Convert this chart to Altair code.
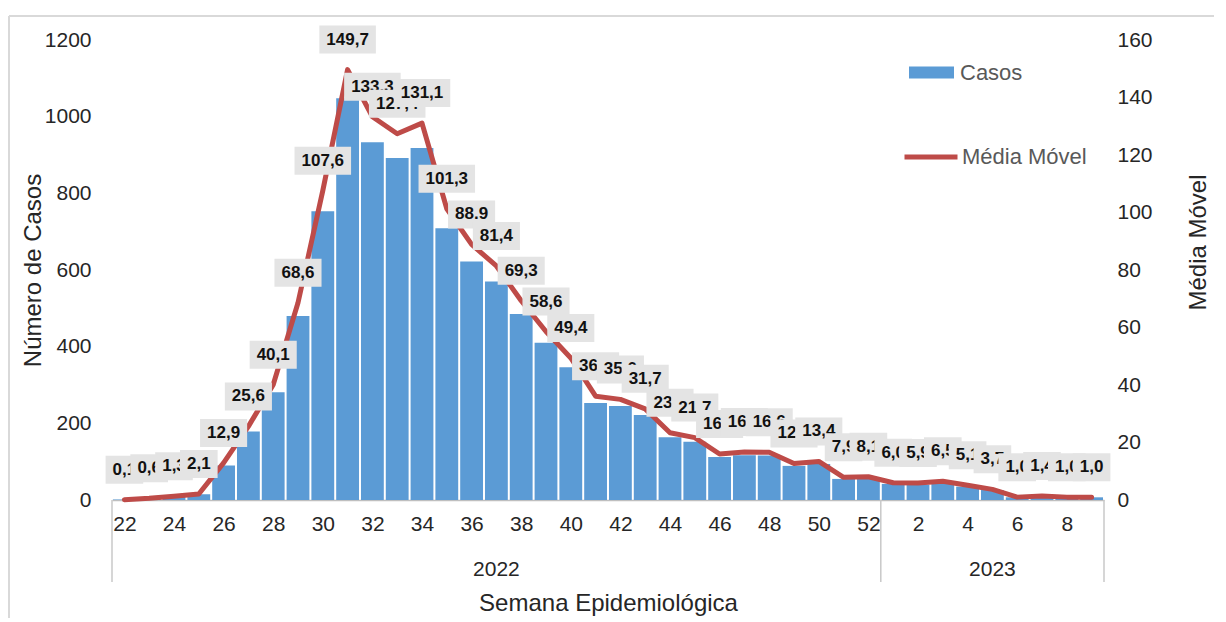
import json
import altair as alt
import pandas as pd

# ---- data ----
semanas_2022 = list(range(22, 53))
semanas_2023 = list(range(1, 10))
anos_nomes = ["2022", "2023"]

casos = [1, 4, 9, 15, 90, 179, 281, 480, 753, 1048, 933, 892, 918, 709, 622, 570,
         485, 410, 346, 253, 245, 222, 164, 152, 112, 117, 116, 89, 94, 55, 57,
         42, 40, 45, 35, 26, 7, 10, 7, 7]

media_movel = [0.1, 0.6, 1.3, 2.1, 12.9, 25.6, 40.1, 68.6, 107.6, 149.7, 133.3, 127.4,
               131.1, 101.3, 88.9, 81.4, 69.3, 58.6, 49.4, 36.1, 35.0, 31.7, 23.4, 21.7,
               16.0, 16.7, 16.6, 12.7, 13.4, 7.9, 8.1, 6.0, 5.9, 6.5, 5.1, 3.7, 1.0, 1.4,
               1.0, 1.0]

rotulos = ["0,1", "0,6", "1,3", "2,1", "12,9", "25,6", "40,1", "68,6", "107,6", "149,7",
           "133,3", "127,4", "131,1", "101,3", "88.9", "81,4", "69,3", "58,6", "49,4",
           "36,1", "35,0", "31,7", "23,4", "21,7", "16,0", "16,7", "16,6", "12,7", "13,4",
           "7,9", "8,1", "6,0", "5,9", "6,5", "5,1", "3,7", "1,0", "1,4", "1,0", "1,0"]

semanas = semanas_2022 + semanas_2023
anos = [anos_nomes[0]] * len(semanas_2022) + [anos_nomes[1]] * len(semanas_2023)
n = len(semanas)
idx = list(range(n))

df = pd.DataFrame({"idx": idx, "semana": semanas, "ano": anos, "casos": casos,
                   "mm": media_movel, "rotulo": rotulos})

# year groups (centres and boundaries from the index ranges)
n22 = len(semanas_2022)
df_anos = pd.DataFrame({"ano": anos_nomes,
                        "centro": [(0 + n22 - 1) / 2, (n22 + n - 1) / 2]})
df_lim = pd.DataFrame({"lim": [-0.5, n22 - 0.5, n - 0.5]})

tick_vals = idx[::2]
tick_labels = [str(s) for s in semanas[::2]]
label_expr = json.dumps(tick_labels) + "[datum.value / 2]"

FONT = "Liberation Sans"
TXT = "#262626"
AZUL = "#5b9bd5"
VERMELHO = "#be4b48"

x_scale = alt.Scale(domain=[-0.5, n - 0.5], nice=False, zero=False)
x_axis = alt.Axis(
    values=tick_vals, labelExpr=label_expr, labelFontSize=21, labelFont=FONT,
    labelColor=TXT, labelPadding=13, labelFlush=False, labelOverlap=False,
    ticks=False, grid=False, domain=True, domainColor="#bfbfbf", domainWidth=1.5,
    title="Semana Epidemiológica", titleFont=FONT, titleFontSize=24,
    titleFontWeight="normal", titleColor=TXT, titleX=496, titleY=103,
    titleAlign="center", titleBaseline="middle")

y_left_scale = alt.Scale(domain=[0, 1200], nice=False)
y_left_axis = alt.Axis(
    values=list(range(0, 1201, 200)), format="d", grid=False, ticks=False, domain=False,
    labelFontSize=21, labelFont=FONT, labelColor=TXT, labelPadding=21,
    title="Número de Casos", titleFont=FONT, titleFontSize=24,
    titleFontWeight="normal", titleColor=TXT, titleX=-79, titleY=230,
    titleAngle=270, titleAlign="center", titleBaseline="middle")

y_mm = alt.Scale(domain=[0, 160], nice=False)
y_right_axis = alt.Axis(
    orient="right", values=list(range(0, 161, 20)), format="d", grid=False, ticks=False,
    domain=False, labelFontSize=21, labelFont=FONT, labelColor=TXT,
    labelPadding=13, title="Média Móvel", titleFont=FONT, titleFontSize=24,
    titleFontWeight="normal", titleColor=TXT, titleX=94, titleY=202,
    titleAngle=270, titleAlign="center", titleBaseline="middle")

# ---------------- bars group (left axis) ----------------
barras = alt.Chart(df).transform_calculate(
    x0="datum.idx - 0.46", x1="datum.idx + 0.46", serie="'Casos'"
).mark_rect().encode(
    x=alt.X("x0:Q", scale=x_scale, axis=x_axis),
    x2="x1:Q",
    y=alt.Y("casos:Q", scale=y_left_scale, axis=y_left_axis),
    y2=alt.datum(0),
    fill=alt.Fill("serie:N", scale=alt.Scale(domain=["Casos"], range=[AZUL]),
                  legend=alt.Legend(orient="none", legendX=797, legendY=10, title=None,
                                    symbolType="M-1,-0.27H1V0.27H-1Z", symbolSize=2025,
                                    symbolStrokeWidth=0, labelFont=FONT, labelFontSize=22,
                                    labelColor="#595959", labelOffset=6, padding=0)),
)

separadores = alt.Chart(df_lim).mark_rule(color="#c8c8c8", strokeWidth=1.5).encode(
    x=alt.X("lim:Q", scale=x_scale, axis=x_axis),
    y=alt.value(460), y2=alt.value(542),
)

anos_txt = alt.Chart(df_anos).mark_text(font=FONT, fontSize=21, color=TXT,
                                        baseline="middle").encode(
    x=alt.X("centro:Q", scale=x_scale, axis=x_axis),
    y=alt.value(530),
    text="ano:N",
)

borda = alt.Chart(df_lim).mark_rule(color="#d9d9d9", strokeWidth=2).encode(
    x=alt.value(-103), y=alt.value(-24), y2=alt.value(620),
)
borda_top = alt.Chart(df_lim).mark_rule(color="#d9d9d9", strokeWidth=2).encode(
    x=alt.value(-103), x2=alt.value(1130), y=alt.value(-24),
)

grupo_barras = alt.layer(borda, borda_top, barras, separadores, anos_txt)

# ---------------- line + labels group (right axis) ----------------
linha = alt.Chart(df).transform_calculate(serie2="'Média Móvel'").mark_line(
    strokeWidth=5, strokeJoin="round", strokeCap="round"
).encode(
    x=alt.X("idx:Q", scale=x_scale, axis=x_axis),
    y=alt.Y("mm:Q", scale=y_mm, axis=y_right_axis),
    stroke=alt.Stroke("serie2:N", scale=alt.Scale(domain=["Média Móvel"], range=[VERMELHO]),
                      legend=alt.Legend(orient="none", legendX=790, legendY=88, title=None,
                                        symbolType="stroke", symbolSize=2809,
                                        symbolStrokeWidth=5, labelFont=FONT,
                                        labelFontSize=22, labelColor="#595959",
                                        labelOffset=2, padding=0)),
)

camadas = [linha]
for i in idx:
    base = alt.Chart(df).transform_filter(f"datum.idx == {i}")
    caixa = base.transform_calculate(
        half="((length(datum.rotulo) - 1) * 9.45 + 4.73 + 14) / 2"
    ).transform_calculate(
        caixa="'M' + (-datum.half) + ',-44H' + datum.half + 'V-16H' + (-datum.half) + 'Z'"
    ).mark_point(filled=True, fill="#e4e4e4", opacity=1, size=4, strokeWidth=0).encode(
        x=alt.X("idx:Q", scale=x_scale, axis=x_axis),
        y=alt.Y("mm:Q", scale=y_mm, axis=y_right_axis),
        shape=alt.Shape("caixa:N", scale=None),
    )
    texto = base.mark_text(font=FONT, fontSize=17, fontWeight="bold", color="#111111",
                           baseline="middle", dy=-30).encode(
        x=alt.X("idx:Q", scale=x_scale, axis=x_axis),
        y=alt.Y("mm:Q", scale=y_mm, axis=y_right_axis),
        text="rotulo:N",
    )
    camadas += [caixa, texto]

grupo_linha = alt.layer(*camadas)

chart = alt.layer(grupo_barras, grupo_linha).resolve_scale(
    y="independent", fill="independent", stroke="independent"
).properties(
    width=992, height=460,
    padding={"left": 104, "top": 32, "right": 110, "bottom": 118},
    autosize=alt.AutoSizeParams(type="none"),
).configure_view(stroke=None)

chart.save("out.html", embed_options={"renderer": "svg", "actions": False})
